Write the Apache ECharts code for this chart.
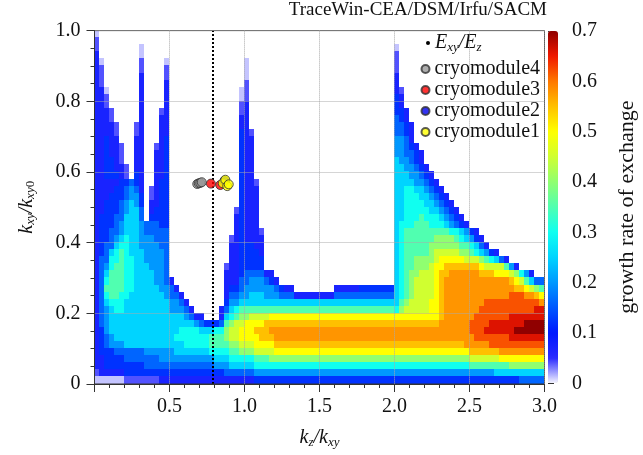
<!DOCTYPE html>
<html>
<head>
<meta charset="utf-8">
<title>Hofmann chart</title>
<script src="https://cdn.jsdelivr.net/npm/echarts@6/dist/echarts.min.js"></script>
<style>
  html, body { margin: 0; padding: 0; background: #fff; }
  #chart { width: 643px; height: 455px; }
</style>
</head>
<body>
<div id="chart"></div>
<script>
// growth rate map: 90 columns (kz/kxy step 1/30) x 50 rows (kxy/kxy0 step 0.02)
// top row first, '.' = no exchange (white), '|' only splits every 10 columns
const levelKeys = '0123456789abcdefg';
const levelValues = [0.012, 0.04, 0.07, 0.12, 0.16, 0.2, 0.25, 0.3, 0.35, 0.4, 0.45, 0.5, 0.55, 0.58, 0.62, 0.66, 0.7];
const heatRows = [
  '0.........|..........|..........|..........|..........|..........|..........|..........|..........',
  '1.........|..........|..........|..........|..........|..........|..........|..........|..........',
  '1........0|..........|..........|..........|..........|..........|0.........|..........|..........',
  '2........0|..........|..........|..........|..........|..........|1.........|..........|..........',
  '20.......1|....0.....|..........|0.........|..........|..........|1.........|..........|..........',
  '21.......1|....1.....|..........|0.........|..........|..........|1.........|..........|..........',
  '21.......2|....1.....|..........|0.........|..........|..........|2.........|..........|..........',
  '21.......2|....2.....|..........|1.........|..........|..........|2.........|..........|..........',
  '220......2|....2.....|.........0|1.........|..........|..........|21........|..........|..........',
  '221......2|....2.....|.........0|1.........|..........|..........|32........|..........|..........',
  '221......2|....2.....|.........1|2.........|..........|..........|32........|..........|..........',
  '2221.....2|...12.....|.........1|2.........|..........|..........|332.......|..........|..........',
  '2221.....2|...22.....|.........2|2.........|..........|..........|432.......|..........|..........',
  '22221...12|...22.....|.........2|2.........|..........|..........|4432......|..........|..........',
  '22221...12|...22.....|.........3|21........|..........|..........|4432......|..........|..........',
  '22322...22|...23.....|.........3|22........|..........|..........|5542......|..........|..........',
  '223221..22|..123.....|.........3|22........|..........|..........|55432.....|..........|..........',
  '223221..22|..223.....|.........3|22........|..........|..........|554432....|..........|..........',
  '223321..22|..223.....|.........3|22........|..........|..........|655432....|..........|..........',
  '2233221.22|..223.....|.........3|22........|..........|..........|6655432...|..........|..........',
  '2233321.32|..223.....|.........3|22........|..........|..........|66655432..|..........|..........',
  '2222233432|..233.....|.........3|221.......|..........|..........|666655432.|..........|..........',
  '2222334542|.1233.....|.........3|222.......|..........|..........|6677665432|..........|..........',
  '2223334553|.1233.....|.........3|222.......|..........|..........|6677766543|2.........|..........',
  '2233345653|.2233.....|.........3|222.......|..........|..........|6677776654|32........|..........',
  '2233345664|.2333.....|........13|222.......|..........|..........|6677777665|432.......|..........',
  '2333446664|.3333.....|........23|222.......|..........|..........|6677787776|5432......|..........',
  '2333456665|44433.....|........23|222.......|..........|..........|6777888777|65432.....|..........',
  '2334456665|44444.....|........23|2221......|..........|..........|6788888888|8776532...|..........',
  '2334567665|55444.....|.......123|2222......|..........|..........|6788888899|99876532..|..........',
  '2344677665|55544.....|.......223|3322......|..........|..........|6788888999|999887642.|..........',
  '2346787666|55554.....|.......223|3332......|..........|..........|67888889aa|aaa9987653|2.........',
  '2447787766|55554.....|.......223|3333......|..........|..........|67889999ab|bbbbaaa987|642.......',
  '2457887766|65554.....|......1223|3333......|..........|..........|6788999abb|cccccccbaa|aa852.....',
  '2468887766|66554.....|......2223|444422....|..........|..........|67899aaabc|cddddddccc|bbba9752..',
  '2478887766|665542....|......2224|4555432...|..........|..........|6789aaaabc|dddddddddd|dddcba8644',
  '2488887766|6665542...|......2334|5555554322|........22|2223333333|6789aaaabc|dddddddddd|ddddccba98',
  '2478877666|66665442..|......2445|5666555444|2222222244|4444444444|6789aaaabc|dddddddddd|dddeeeddcb',
  '2467776666|666665542.|......3556|6666666666|6666666666|6666666666|689aaaabbc|ddddddddee|eeeeeeeeed',
  '2456776666|6666655542|.....24678|8888888888|8888888888|8888888888|79aaaaabbc|dddddddeee|eeeeeeeeff',
  '2456666666|6666666654|22...26789|9aaaabbbbb|bbbbbbbbbb|bbbbbbbbbb|bbbbbbbbbc|ddddddeeee|eeefffffff',
  '2456666666|6666666666|54333489aa|bbbbcccccc|cccccccccc|cccccccccc|cccccccccd|dddddeeeef|ffffffgggg',
  '2356666666|6666666777|7666779aab|bbcccddddd|dddddddddd|dddddddddd|dddddddddd|dddddeeeff|ffffgggggg',
  '2345666666|6666667777|7778889aab|bbbcccdddd|dddddddddd|dddddddddd|dddddddddd|ddddddeeee|eeefffffff',
  '2345556666|6666666677|777888899a|aabbbbcccc|cccccccccc|cccccccccc|cccccccccc|ccccddddde|eeeeeeeeee',
  '2333444444|5555556666|6667777889|99aaaabbbb|bbbbbbbbbb|bbbbbbbbbb|bbbbbbbbbb|bbbbbccccc|cddddddddd',
  '2233334444|4445555555|5555666777|7788899999|9999999999|9999999999|9999999999|99999aaaaa|abbbbbbbbb',
  '2233333333|4444444444|4444555666|6677777777|7777777777|7777777777|7777777777|7777788888|8889999999',
  '1222223333|3333333333|3333334444|4455555555|5555555555|5555555555|5555555555|5555555555|6666666666',
  '0000001111|1112222222|2222222222|2233333333|3333333333|3333333333|3333333333|3333333333|3333344444'
];
const cellW = 1 / 30, cellH = 0.02;

// E_xy/E_z line and the cryomodule working points
const exyLine = [[0.79, 0], [0.79, 1]];
const cryo4 = [[0.685, 0.566], [0.695, 0.568], [0.705, 0.569], [0.715, 0.571]];
const cryo3 = [[0.776, 0.567], [0.838, 0.563]];
const cryo2 = [[0.866, 0.575]];
const cryo1 = [[0.855, 0.568], [0.872, 0.578], [0.885, 0.56], [0.895, 0.565]];

// colour scale 0 .. 0.7 (steps of 0.05)
const scaleColors = ['#f4f4ff', '#2a2aff', '#0018ff', '#0058ff', '#0098ff', '#00d4ff', '#10fff0',
  '#50ffb0', '#90ff70', '#d0ff30', '#ffff00', '#ffc000', '#ff7800', '#f01800', '#900000'];

const FONT = 'Liberation Serif';
const nRows = heatRows.length;

// cells: [x, y, value, column, row-from-bottom]
const cells = [];
heatRows.forEach(function (row, r) {
  const s = row.replace(/\|/g, '');
  if (s.length !== 90) console.warn('row ' + r + ' has ' + s.length + ' cells');
  for (let i = 0; i < s.length; i++) {
    const k = levelKeys.indexOf(s[i]);
    const j = nRows - 1 - r;
    if (k >= 0) cells.push([i * cellW, j * cellH, levelValues[k], i, j]);
  }
});

function renderCell(params, api) {
  const i = api.value(3), j = api.value(4);
  // same expression for shared edges so neighbours meet without seams
  const a = api.coord([i * cellW, (j + 1) * cellH]);
  const b = api.coord([(i + 1) * cellW, j * cellH]);
  const x0 = Math.floor(a[0] + 0.01), y0 = Math.floor(a[1] + 0.01);
  const x1 = Math.floor(b[0] + 0.01), y1 = Math.floor(b[1] + 0.01);
  return {
    type: 'rect',
    shape: { x: x0, y: y0, width: x1 - x0, height: y1 - y0 },
    style: { fill: api.visual('color') }
  };
}

const rich = {
  i: { fontFamily: FONT, fontStyle: 'italic', fontSize: 20, color: '#111' },
  s: { fontFamily: FONT, fontStyle: 'italic', fontSize: 13, color: '#111', padding: [9, 0, 0, 0] },
  n: { fontFamily: FONT, fontSize: 13, color: '#111', padding: [9, 0, 0, 0] }
};
const tickLabel = { fontFamily: FONT, fontSize: 20, color: '#111' };
const dark = { color: '#333', width: 1 };

const chart = echarts.init(document.getElementById('chart'));
chart.setOption({
  animation: false,
  backgroundColor: '#fff',
  title: {
    text: 'TraceWin-CEA/DSM/Irfu/SACM',
    right: 96, top: 1, padding: 0,
    textStyle: { fontFamily: FONT, fontSize: 19, fontWeight: 'normal', color: '#111' }
  },
  grid: [
    { left: 94.5, top: 30.6, width: 450, height: 353.4, show: true, z: 10, outerBoundsMode: 'none',
      containLabel: false, backgroundColor: 'rgba(0,0,0,0)', borderColor: '#333', borderWidth: 1 },
    { left: 548, top: 31, width: 10, height: 352.3, show: false, outerBoundsMode: 'none', containLabel: false }
  ],
  xAxis: [
    { gridIndex: 0, type: 'value', min: 0, max: 3, interval: 0.5, z: 10,
      axisLine: { lineStyle: dark },
      axisTick: { length: 8, lineStyle: dark },
      minorTick: { show: true, splitNumber: 5, length: 4, lineStyle: dark },
      splitLine: { show: true, lineStyle: { type: 'dotted', color: '#aaa', width: 1 } },
      axisLabel: Object.assign({ margin: 13, formatter: function (v) { return v === 0 ? '' : v.toFixed(1); } }, tickLabel),
      name: '{i|k}{s|z}{i|/k}{s|xy}', nameLocation: 'middle', nameGap: 43,
      nameTextStyle: { rich: rich }
    },
    { gridIndex: 1, type: 'value', show: false }
  ],
  yAxis: [
    { gridIndex: 0, type: 'value', min: 0, max: 1, interval: 0.2, z: 10,
      axisLine: { lineStyle: dark },
      axisTick: { length: 8, lineStyle: dark },
      minorTick: { show: true, splitNumber: 4, length: 4, lineStyle: dark },
      splitLine: { show: true, lineStyle: { type: 'dotted', color: '#aaa', width: 1 } },
      axisLabel: Object.assign({ margin: 14, formatter: function (v) { return v === 0 ? '0' : v.toFixed(1); } }, tickLabel),
      name: '{i|k}{s|xy}{i|/k}{s|xy}{n|0}', nameLocation: 'middle', nameGap: 57, nameRotate: 90,
      nameTextStyle: { rich: rich }
    },
    { gridIndex: 1, type: 'value', position: 'right', min: 0, max: 0.7, interval: 0.1,
      axisLine: { show: false },
      axisTick: { show: true, length: 6, lineStyle: dark },
      minorTick: { show: true, splitNumber: 5, length: 3, lineStyle: dark },
      splitLine: { show: false },
      axisLabel: Object.assign({ margin: 14, formatter: function (v) { return v === 0 ? '0' : v.toFixed(1); } }, tickLabel),
      name: 'growth rate of exchange', nameLocation: 'middle', nameRotate: 90, nameGap: 58,
      nameTextStyle: { fontFamily: FONT, fontSize: 22, color: '#111' }
    }
  ],
  visualMap: {
    type: 'continuous', seriesIndex: 0, dimension: 2, min: 0, max: 0.7,
    calculable: false, hoverLink: false, orient: 'vertical',
    left: 548, top: 31, itemWidth: 10, itemHeight: 352, padding: 0,
    inRange: { color: scaleColors }
  },
  legend: [
    { data: [{ name: 'Exy/Ez', icon: 'circle' }], orient: 'vertical', left: 426, top: 33,
      itemWidth: 4, itemHeight: 4, padding: 0,
      formatter: function () { return '{i|E}{s|xy}{i|/E}{s|z}'; },
      textStyle: { fontFamily: FONT, fontSize: 20, color: '#111', rich: rich } },
    { data: ['cryomodule4', 'cryomodule3', 'cryomodule2', 'cryomodule1'].map(function (n) { return { name: n, icon: 'circle' }; }),
      orient: 'vertical', left: 420.5, top: 59, itemWidth: 8, itemHeight: 8, itemGap: 1, padding: 0,
      textStyle: { fontFamily: FONT, fontSize: 20, color: '#111', lineHeight: 20 } }
  ],
  series: [
    { type: 'custom', xAxisIndex: 0, yAxisIndex: 0, data: cells, renderItem: renderCell, z: 2,
      encode: { x: 0, y: 1 }, clip: true, silent: true },
    { type: 'line', name: 'Exy/Ez', xAxisIndex: 0, yAxisIndex: 0, data: exyLine, symbol: 'none', z: 3,
      lineStyle: { color: '#000', width: 2, type: [2, 2] }, itemStyle: { color: '#000' } },
    { type: 'scatter', name: 'cryomodule4', xAxisIndex: 0, yAxisIndex: 0, data: cryo4, symbolSize: 9, z: 4,
      itemStyle: { color: '#9a9a9a', borderColor: '#333', borderWidth: 1 } },
    { type: 'scatter', name: 'cryomodule3', xAxisIndex: 0, yAxisIndex: 0, data: cryo3, symbolSize: 9, z: 4,
      itemStyle: { color: '#ff0000', borderColor: '#333', borderWidth: 1 } },
    { type: 'scatter', name: 'cryomodule2', xAxisIndex: 0, yAxisIndex: 0, data: cryo2, symbolSize: 9, z: 4,
      itemStyle: { color: '#0000ee', borderColor: '#333', borderWidth: 1 } },
    { type: 'scatter', name: 'cryomodule1', xAxisIndex: 0, yAxisIndex: 0, data: cryo1, symbolSize: 9, z: 4,
      itemStyle: { color: '#ffff00', borderColor: '#333', borderWidth: 1 } }
  ]
});
</script>
</body>
</html>
